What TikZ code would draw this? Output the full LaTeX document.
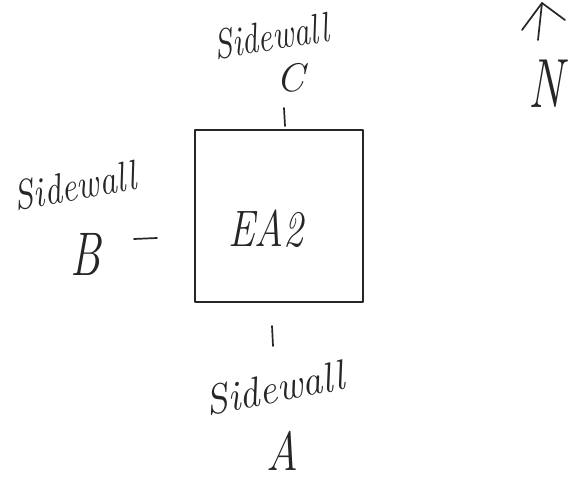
\documentclass[tikz,border=0pt]{standalone}
\usetikzlibrary{arrows.meta}
\begin{document}
\begin{tikzpicture}[x=1pt,y=-1pt,
  pen/.style={line width=1.7pt,draw=black!85,line cap=round,line join=round},
  hand/.style={font=\fontsize{42}{46}\selectfont\itshape,text=black!85,inner sep=0pt},
  big/.style={font=\fontsize{44}{48}\selectfont\itshape,text=black!85,inner sep=0pt}]
\useasboundingbox (0,0) rectangle (574,482);
\fill[white] (0,0) rectangle (574,482);
% box
\node[pen,draw,minimum width=168pt,minimum height=172pt,inner sep=0pt] (box) at (279,216) {};
\node[font=\fontsize{38}{42}\selectfont\itshape,text=black!85,inner sep=0pt] (ea) at (266,229) {\scalebox{1.05}[1.35]{EA2}};
% top label
\node[hand,rotate=9] (sc) at (271,36) {\scalebox{0.78}[1]{Sidewall}};
\node[big,font=\fontsize{40}{44}\selectfont\itshape] (c) at (290,78) {C};
\coordinate (ct1) at (284,108);
\coordinate (ct2) at (285,126);
\draw[pen] (ct1) -- (ct2);
% left label
\node[hand,rotate=10] (sb) at (75,186) {\scalebox{0.83}[1]{Sidewall}};
\node[big] (b) at (86,254) {\scalebox{1}[1.4]{B}};
\coordinate (bt1) at (134,239);
\coordinate (bt2) at (157,238);
\draw[pen] (bt1) -- (bt2);
% bottom label
\node[hand,rotate=11] (sa) at (275,388) {\scalebox{0.95}[1]{Sidewall}};
\node[big] (a) at (282,451) {\scalebox{1}[1.25]{A}};
\coordinate (at1) at (272,326);
\coordinate (at2) at (273,346);
\draw[pen] (at1) -- (at2);
% north arrow
\node[big,font=\fontsize{48}{52}\selectfont\itshape] (n) at (546,84) {\scalebox{1}[1.45]{N}};
\coordinate (na) at (538,40);
\coordinate (nb) at (542,3);
\coordinate (nl) at (522,30);
\coordinate (nr) at (565,20);
\draw[pen] (na) -- (nb);
\draw[pen] (nl) -- (nb) -- (nr);
\end{tikzpicture}
\end{document}
